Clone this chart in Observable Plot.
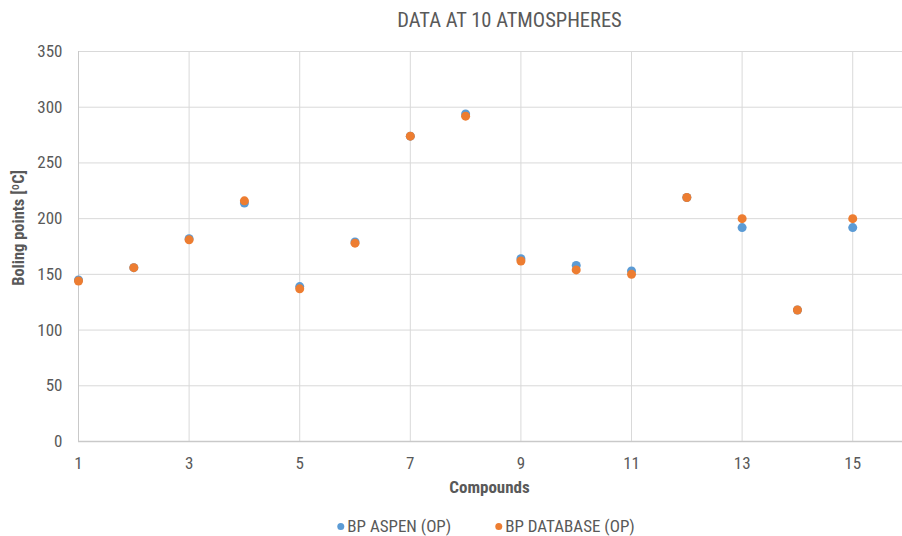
<!DOCTYPE html>
<html>
<head>
<meta charset="utf-8">
<script src="https://cdn.jsdelivr.net/npm/d3@7"></script>
<script src="https://cdn.jsdelivr.net/npm/@observablehq/plot@0.6"></script>
<style>
  html, body { margin: 0; padding: 0; background: #fff; }
  #wrap { position: relative; width: 902px; height: 536px; overflow: hidden;
          font-family: 'Liberation Sans Narrow', 'Arial Narrow', 'Roboto Condensed', sans-serif; color: #595959; }
  #wrap svg { position: absolute; left: 0; top: 0; }
  .ov { position: absolute; white-space: nowrap; line-height: 1; }
  #title { left: 509.5px; top: 9.5px; transform: translateX(-50%); font-size: 20.5px; }
  #xlab { left: 489.5px; top: 478.5px; transform: translateX(-50%); font-size: 17px; font-weight: bold; }
  #ylab { left: 19.3px; top: 227.5px; transform: translate(-50%, -50%) rotate(-90deg); font-size: 16.5px; font-weight: bold; }
  #legend { left: 486px; top: 518px; transform: translateX(-50%); font-size: 17px; display: flex; align-items: center; gap: 44px; }
  .item { display: flex; align-items: center; gap: 3px; }
  .sw { width: 7px; height: 7px; border-radius: 50%; display: inline-block; }
</style>
</head>
<body>
<div id="wrap"></div>
<script>
const compounds = [1, 2, 3, 4, 5, 6, 7, 8, 9, 10, 11, 12, 13, 14, 15];
const bpAspen    = [145, 156, 182, 214, 139, 179, 274, 294, 164, 158, 153, 219, 192, 118, 192];
const bpDatabase = [144, 156, 181, 216, 137, 178, 274, 292, 162, 154, 150, 219, 200, 118, 200];
const xTicks = [1, 3, 5, 7, 9, 11, 13, 15];
const yTicks = [0, 50, 100, 150, 200, 250, 300, 350];
const seriesNames = ["BP ASPEN (OP)", "BP DATABASE (OP)"];
const seriesColors = ["#5B9BD5", "#ED7D31"];
const titleText = "DATA AT 10 ATMOSPHERES";
const xLabel = "Compounds";
const yLabel = "Boling points [ºC]";

const aspen = compounds.map((c, i) => ({c, v: bpAspen[i]}));
const database = compounds.map((c, i) => ({c, v: bpDatabase[i]}));

const chart = Plot.plot({
  width: 902,
  height: 536,
  marginTop: 51,
  marginBottom: 95,
  marginLeft: 78,
  marginRight: 0,
  style: {
    fontFamily: "'Liberation Sans Narrow', 'Arial Narrow', 'Roboto Condensed', sans-serif",
    fontSize: "17px",
    color: "#595959",
    background: "transparent"
  },
  x: {domain: [1, 15.9], ticks: xTicks, tickSize: 0, tickPadding: 15, label: null},
  y: {domain: [0, 350], ticks: yTicks, tickSize: 0, tickPadding: 16, label: null},
  marks: [
    Plot.gridX(xTicks, {stroke: "#d9d9d9", strokeOpacity: 1, strokeWidth: 1}),
    Plot.gridY(yTicks, {stroke: "#d9d9d9", strokeOpacity: 1, strokeWidth: 1}),
    Plot.ruleX([1], {stroke: "#c9c9c9", strokeWidth: 1}),
    Plot.ruleY([0], {stroke: "#c9c9c9", strokeWidth: 1.5}),
    Plot.dot(aspen, {x: "c", y: "v", r: 4.5, fill: seriesColors[0], stroke: "none"}),
    Plot.dot(database, {x: "c", y: "v", r: 4.5, fill: seriesColors[1], stroke: "none"})
  ]
});

const wrap = document.getElementById("wrap");
wrap.appendChild(chart);

function addDiv(id, text) {
  const d = document.createElement("div");
  d.id = id; d.className = "ov"; d.textContent = text;
  wrap.appendChild(d);
  return d;
}
addDiv("title", titleText);
addDiv("xlab", xLabel);
addDiv("ylab", yLabel);

const legend = document.createElement("div");
legend.id = "legend"; legend.className = "ov";
seriesNames.forEach((name, i) => {
  const it = document.createElement("span"); it.className = "item";
  const sw = document.createElement("span"); sw.className = "sw"; sw.style.background = seriesColors[i];
  const tx = document.createElement("span"); tx.textContent = name;
  it.appendChild(sw); it.appendChild(tx);
  legend.appendChild(it);
});
wrap.appendChild(legend);
</script>
</body>
</html>
